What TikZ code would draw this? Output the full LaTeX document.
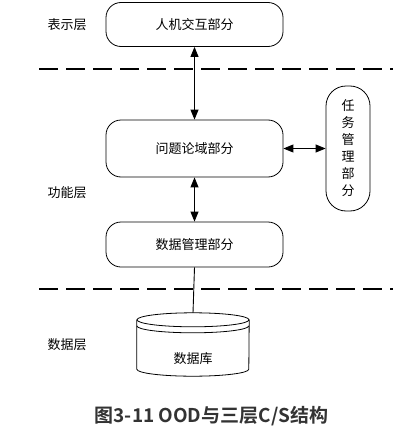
\documentclass[tikz,border=0pt]{standalone}
\usepackage{fontspec}
\setmainfont{Liberation Sans}
\newfontfamily\cjk{Noto Sans CJK SC}
\newfontfamily\cjkb{Noto Sans CJK SC Bold}
\usetikzlibrary{arrows.meta,calc}
\definecolor{captiongray}{HTML}{333333}
\tikzset{
  box/.style={draw, line width=0.8pt, rounded corners=15pt, minimum width=177pt, minimum height=44pt, inner sep=0pt, font=\cjk\fontsize{13}{15}\selectfont},
  taskbox/.style={draw, line width=0.8pt, rounded corners=20pt, minimum width=44pt, minimum height=125pt, inner sep=0pt, align=center, font=\cjk\fontsize{13}{17}\selectfont},
  layerlabel/.style={font=\cjk\fontsize{13}{15}\selectfont, inner sep=0pt},
  conn/.style={line width=0.9pt, {Triangle[length=10pt,width=8pt]}-{Triangle[length=10pt,width=8pt]}},
  plainconn/.style={line width=0.9pt},
  divider/.style={line width=2.2pt, dash pattern=on 19pt off 8pt},
  cyl/.style={line width=0.8pt}
}
\begin{document}
\begin{tikzpicture}[x=1pt,y=-1pt]
\useasboundingbox (0,0) rectangle (401,436);
% boxes
\node[box] (hmi) at (194.5,24.5) {人机交互部分};
\node[box, minimum height=57pt] (pd) at (194.5,148.5) {问题论域部分};
\node[box, minimum height=45pt] (dm) at (194.5,244.5) {数据管理部分};
\node[taskbox] (task) at (348,148.5) {任\\务\\管\\理\\部\\分};
% layer labels
\node[layerlabel] (l1) at (67,25) {表示层};
\node[layerlabel] (l2) at (67,193) {功能层};
\node[layerlabel] (l3) at (67,345) {数据层};
% dividers
\coordinate (d1a) at (39,69);
\coordinate (d1b) at (393,69);
\coordinate (d2a) at (39,289);
\coordinate (d2b) at (393,289);
\draw[divider] (d1a) -- (d1b);
\draw[divider] (d2a) -- (d2b);
% database cylinder
\node[minimum width=112pt, minimum height=63pt, inner sep=0pt] (db) at (193,344.5) {};
\draw[cyl] ($(db.north)+(0,7)$) ellipse [x radius=56, y radius=7];
\draw[cyl] ($(db.north west)+(0,13)$) arc [start angle=180, end angle=0, x radius=56, y radius=7];
\draw[cyl] ($(db.north west)+(0,7)$) -- ($(db.south west)+(0,-7)$)
  arc [start angle=180, end angle=0, x radius=56, y radius=7]
  -- ($(db.north east)+(0,7)$);
\node[font=\cjk\fontsize{13}{15}\selectfont, inner sep=0pt] (dbtext) at (193,359) {数据库};
% connectors
\draw[conn] (hmi.south) -- (pd.north);
\draw[conn] (pd.south) -- (dm.north);
\draw[conn] (pd.east) -- (task.west);
\draw[plainconn] (dm.south) -- (db.north);
% caption
\node[font=\cjkb\fontsize{19}{22}\selectfont, text=captiongray, inner sep=0pt] (cap) at (211.5,416) {图3-11 OOD与三层C/S结构};
\end{tikzpicture}
\end{document}
